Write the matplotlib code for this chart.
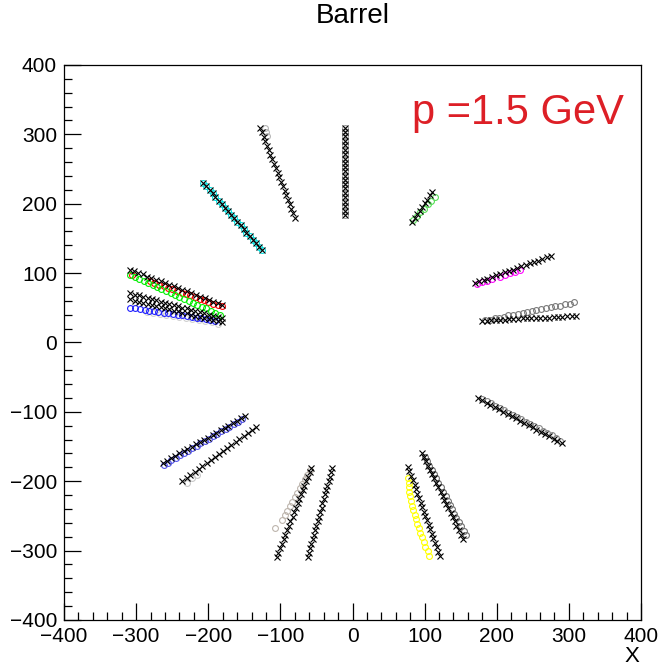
"""Barrel hit display: reconstructed hits (crosses) and simulated hits (circles)."""

import matplotlib

matplotlib.use("Agg")

import matplotlib.pyplot as plt  # noqa: E402
from matplotlib.ticker import MultipleLocator  # noqa: E402

plt.rcParams["font.family"] = ["Liberation Sans", "DejaVu Sans"]

# ---------------------------------------------------------------------------
# Data
# ---------------------------------------------------------------------------

# track 1: top, nearly vertical
t1_x = [-10] * 21
t1_y = [309, 303, 297, 290, 284, 278, 272, 265, 259, 253, 247, 240, 234, 228,
        222, 215, 209, 203, 197, 190, 184]

# track 2: upper left, steep
t2_x = [-128, -126, -123, -121, -118, -116, -114, -111, -109, -106, -104, -102,
        -99, -97, -94, -92, -90, -87, -85, -82, -80]
t2_y = [309, 303, 296, 290, 283, 277, 270, 264, 257, 251, 245, 238, 232, 225,
        219, 212, 206, 199, 193, 186, 180]
t2_sim_x = [-121, -120, -119]
t2_sim_y = [309, 303, 297]

# track 3: cyan
t3_x = [-207, -203, -198, -194, -190, -185, -181, -177, -172, -168, -164, -160,
        -155, -151, -147, -142, -138, -134, -129, -125]
t3_y = [230, 225, 220, 215, 210, 204, 199, 194, 189, 184, 179, 174, 169, 164,
        158, 153, 148, 143, 138, 133]

# track 4: short green, upper right
t4_x = [83, 86, 90, 93, 96, 100, 103, 107, 110]
t4_y = [174, 179, 185, 190, 196, 201, 206, 212, 217]
t4_sim_x = [84, 89, 94, 99, 104, 109, 114]
t4_sim_y = [177, 182, 188, 193, 199, 204, 210]

# track 5: magenta
t5_x = [170, 176, 182, 187, 193, 199, 205, 211, 217, 222, 228, 234, 240, 246,
        252, 257, 263, 269, 275]
t5_y = [86, 88, 90, 92, 95, 97, 99, 101, 103, 105, 107, 110, 112, 114, 116,
        118, 121, 123, 125]
t5_sim_x = [173, 180, 187, 194, 204, 211, 218, 225, 232]
t5_sim_y = [85, 87, 89, 92, 95, 97, 100, 102, 105]

# track 6: right, almost horizontal
t6_x = [180, 186, 192, 199, 205, 211, 217, 223, 229, 236, 242, 248, 254, 260,
        267, 273, 279, 285, 291, 298, 304, 310]
t6_y = [31, 31, 32, 32, 33, 33, 34, 34, 34, 35, 35, 35, 35, 36, 36, 36, 37, 37,
        37, 38, 38, 38]
t6_sim_x = [184, 190, 197, 203, 210, 216, 223, 229, 236, 242, 249, 255, 262,
            268, 275, 281, 288, 294, 301, 307]
t6_sim_y = [32, 33, 35, 36, 37, 39, 40, 41, 43, 44, 45, 47, 48, 49, 51, 52, 53,
            55, 56, 58]

# track 7: right, going down
t7_x = [174, 180, 186, 191, 197, 203, 209, 215, 221, 226, 232, 238, 244, 250,
        255, 261, 267, 273, 279, 284, 290]
t7_y = [-80, -83, -87, -90, -93, -96, -100, -103, -106, -109, -113, -116, -119,
        -122, -126, -129, -132, -135, -139, -142, -145]
t7_sim_x = [180, 186, 192, 198, 204, 210, 216, 222, 228, 234, 240, 246, 252,
            258, 264, 270, 276, 282, 288]
t7_sim_y = [-81, -84, -87, -91, -94, -97, -101, -104, -107, -110, -114, -117,
            -120, -123, -127, -130, -133, -137, -142]

# track 8: lower right, steep
t8_x = [96, 99, 102, 105, 107, 110, 113, 116, 119, 122, 125, 127, 130, 133,
        136, 139, 142, 144, 147, 150, 153]
t8_y = [-159, -165, -171, -178, -184, -190, -196, -202, -208, -215, -221, -227,
        -233, -239, -246, -252, -258, -264, -270, -277, -283]
t8_sim_x = [100, 103, 106, 110, 113, 116, 119, 122, 125, 129, 132, 135, 138,
            141, 144, 148, 151, 154, 157]
t8_sim_y = [-165, -171, -178, -184, -190, -196, -203, -209, -215, -222, -228,
            -234, -240, -247, -253, -259, -265, -272, -278]

# track 9: yellow
t9_x = [77, 79, 81, 84, 86, 88, 90, 92, 95, 97, 99, 101, 103, 106, 108, 110,
        112, 114, 117, 119, 121]
t9_y = [-179, -185, -192, -198, -205, -211, -218, -224, -231, -237, -244, -250,
        -256, -263, -269, -276, -282, -289, -295, -302, -308]
t9_sim_x = [77, 78, 78, 79, 80, 81, 83, 84, 86, 88, 90, 92, 94, 96, 99, 101,
            104, 106]
t9_sim_y = [-195, -202, -208, -215, -221, -228, -235, -241, -248, -255, -261,
            -268, -275, -281, -288, -295, -301, -308]

# track 10: bottom centre pair
t10a_x = [-57, -59, -62, -64, -67, -69, -71, -74, -76, -79, -81, -83, -86, -88,
          -91, -93, -95, -98, -100, -103, -105]
t10b_x = [-28, -30, -31, -33, -35, -37, -38, -40, -42, -43, -45, -47, -48, -50,
          -52, -54, -55, -57, -59, -60, -62]
t10_y = [-181, -187, -194, -200, -207, -213, -219, -226, -232, -239, -245, -251,
         -258, -264, -271, -277, -283, -290, -296, -303, -309]
t10_sim_x = [-59, -63, -66, -70, -73, -77, -80, -84, -87, -91, -94, -98, -108]
t10_sim_y = [-184, -191, -197, -204, -210, -217, -223, -230, -236, -243, -249,
             -256, -267]

# track 11: lower left pair
t11a_x = [-263, -257, -252, -246, -240, -234, -229, -223, -217, -212, -206,
          -200, -194, -189, -183, -177, -172, -166, -160, -154, -149]
t11a_y = [-174, -171, -167, -164, -160, -157, -154, -150, -147, -143, -140,
          -137, -133, -130, -126, -123, -120, -116, -113, -109, -106]
t11a_sim_x = [-262, -256, -251, -245, -239, -233, -228, -222, -216, -211, -205,
              -199, -193, -188, -182, -176, -171, -165, -159, -153]
t11a_sim_y = [-176, -173, -169, -166, -162, -159, -156, -152, -149, -145, -142,
              -139, -135, -132, -128, -125, -122, -118, -115, -111]
t11b_x = [-236, -230, -225, -219, -213, -208, -202, -196, -191, -185, -179,
          -174, -168, -162, -157, -151, -145, -140, -134]
t11b_y = [-200, -196, -191, -187, -183, -178, -174, -170, -165, -161, -157,
          -152, -148, -144, -139, -135, -131, -126, -122]
t11b_sim_x = [-230, -222, -216]
t11b_sim_y = [-203, -196, -191]

# track 12: left cluster
t12a_x = [-309, -303, -297, -291, -285, -279, -272, -266, -260, -254, -248,
          -242, -236, -230, -224, -217, -211, -205, -199, -193, -187, -181]
t12a_y = [105, 103, 100, 98, 95, 93, 90, 88, 86, 83, 81, 78, 76, 74, 71, 69,
          66, 64, 61, 59, 57, 54]
t12_red_x = [-306, -281, -275, -268, -262, -256, -250, -243, -237, -231, -225,
             -218, -212, -206, -200, -193, -187, -181]
t12_red_y = [97, 88, 86, 83, 81, 79, 77, 74, 72, 70, 68, 65, 63, 61, 59, 56,
             54, 52]
t12_green_x = [-308, -302, -296, -289, -283, -277, -271, -265, -258, -252,
               -246, -240, -234, -227, -221, -215, -209, -203, -196, -190, -184]
t12_green_y = [97, 94, 91, 88, 86, 83, 80, 77, 74, 71, 69, 66, 63, 60, 57, 54,
               51, 49, 46, 43, 40]
t12bc_x = [-308, -302, -296, -290, -284, -278, -272, -266, -260, -254, -248,
           -242, -236, -230, -224, -218, -212, -206, -199, -193, -187, -181]
t12b_y = [71, 69, 68, 66, 64, 62, 61, 59, 57, 56, 54, 52, 50, 49, 47, 45, 44,
          42, 40, 38, 37, 35]
t12c_y = [62, 60, 59, 57, 56, 54, 53, 51, 49, 48, 46, 45, 43, 42, 40, 38, 37,
          35, 34, 32, 31, 29]
t12_blue_x = [-308, -301, -295, -288, -282, -275, -269, -262, -256, -249, -242,
              -236, -229, -223, -216, -210, -203, -197, -190]
t12_blue_y = [50, 49, 48, 47, 46, 45, 44, 43, 42, 41, 40, 39, 38, 37, 36, 35,
              34, 33, 31]
t12_grey_x = [-285, -276, -267, -258, -249, -240, -231, -222, -213, -204, -195,
              -186]
t12_grey_y = [44, 43, 41, 40, 38, 37, 35, 34, 32, 31, 29, 27]

title = "Barrel"
momentum_label = "p =1.5 GeV"
x_label = "X"

# ---------------------------------------------------------------------------
# Figure
# ---------------------------------------------------------------------------

fig = plt.figure(figsize=(6.64, 6.72), dpi=100)
ax = fig.add_axes([0.0964, 0.0774, 0.869, 0.8259])

circ = dict(marker="o", linestyle="none", markersize=4.2, mfc="none", mew=0.8)
cross = dict(marker="x", linestyle="none", markersize=4.0, color="black",
             mew=0.8)

sim_hits = [
    (t2_sim_x, t2_sim_y, "#b4b4b4"),
    (t3_x, t3_y, "#00e0e0"),
    (t4_sim_x, t4_sim_y, "#55dd55"),
    (t5_sim_x, t5_sim_y, "#ff00ff"),
    (t6_sim_x, t6_sim_y, "#7a7a7a"),
    (t7_sim_x, t7_sim_y, "#8a8a8a"),
    (t8_sim_x, t8_sim_y, "#707070"),
    (t9_sim_x, t9_sim_y, "#ffff00"),
    (t10_sim_x, t10_sim_y, "#bdb5ad"),
    (t11a_sim_x, t11a_sim_y, "#5555ee"),
    (t11b_sim_x, t11b_sim_y, "#c8c8c8"),
    (t12_grey_x, t12_grey_y, "#d0d0d0"),
    (t12_blue_x, t12_blue_y, "#2020ff"),
    (t12_red_x, t12_red_y, "#ff0000"),
    (t12_green_x, t12_green_y, "#00ee00"),
    (t1_x, t1_y, "#999999"),
]
for xs, ys, col in sim_hits:
    ax.plot(xs, ys, color=col, **circ)

reco_hits = [
    (t1_x, t1_y), (t2_x, t2_y), (t3_x, t3_y), (t4_x, t4_y), (t5_x, t5_y),
    (t6_x, t6_y), (t7_x, t7_y), (t8_x, t8_y), (t9_x, t9_y),
    (t10a_x, t10_y), (t10b_x, t10_y), (t11a_x, t11a_y), (t11b_x, t11b_y),
    (t12a_x, t12a_y), (t12bc_x, t12b_y), (t12bc_x, t12c_y),
]
for xs, ys in reco_hits:
    ax.plot(xs, ys, **cross)

ax.set_xlim(-400, 400)
ax.set_ylim(-400, 400)

# ROOT-like axes: inward ticks on left/bottom only
ax.xaxis.set_major_locator(MultipleLocator(100))
ax.xaxis.set_minor_locator(MultipleLocator(20))
ax.yaxis.set_major_locator(MultipleLocator(100))
ax.yaxis.set_minor_locator(MultipleLocator(20))
ax.tick_params(which="both", direction="in", top=False, right=False,
               labelsize=15, width=0.9, pad=5)
ax.tick_params(which="major", length=12)
ax.tick_params(which="minor", length=6)
for sp in ax.spines.values():
    sp.set_linewidth(0.9)

ax.set_title(title, fontsize=20, pad=30)
ax.text(0.97, 0.913, momentum_label, transform=ax.transAxes, ha="right",
        va="center", fontsize=30, color="#dd1f26")
ax.text(0.985, -0.065, x_label, transform=ax.transAxes, ha="center",
        va="center", fontsize=16)

fig.savefig("out.png", dpi=100)
plt.close(fig)
